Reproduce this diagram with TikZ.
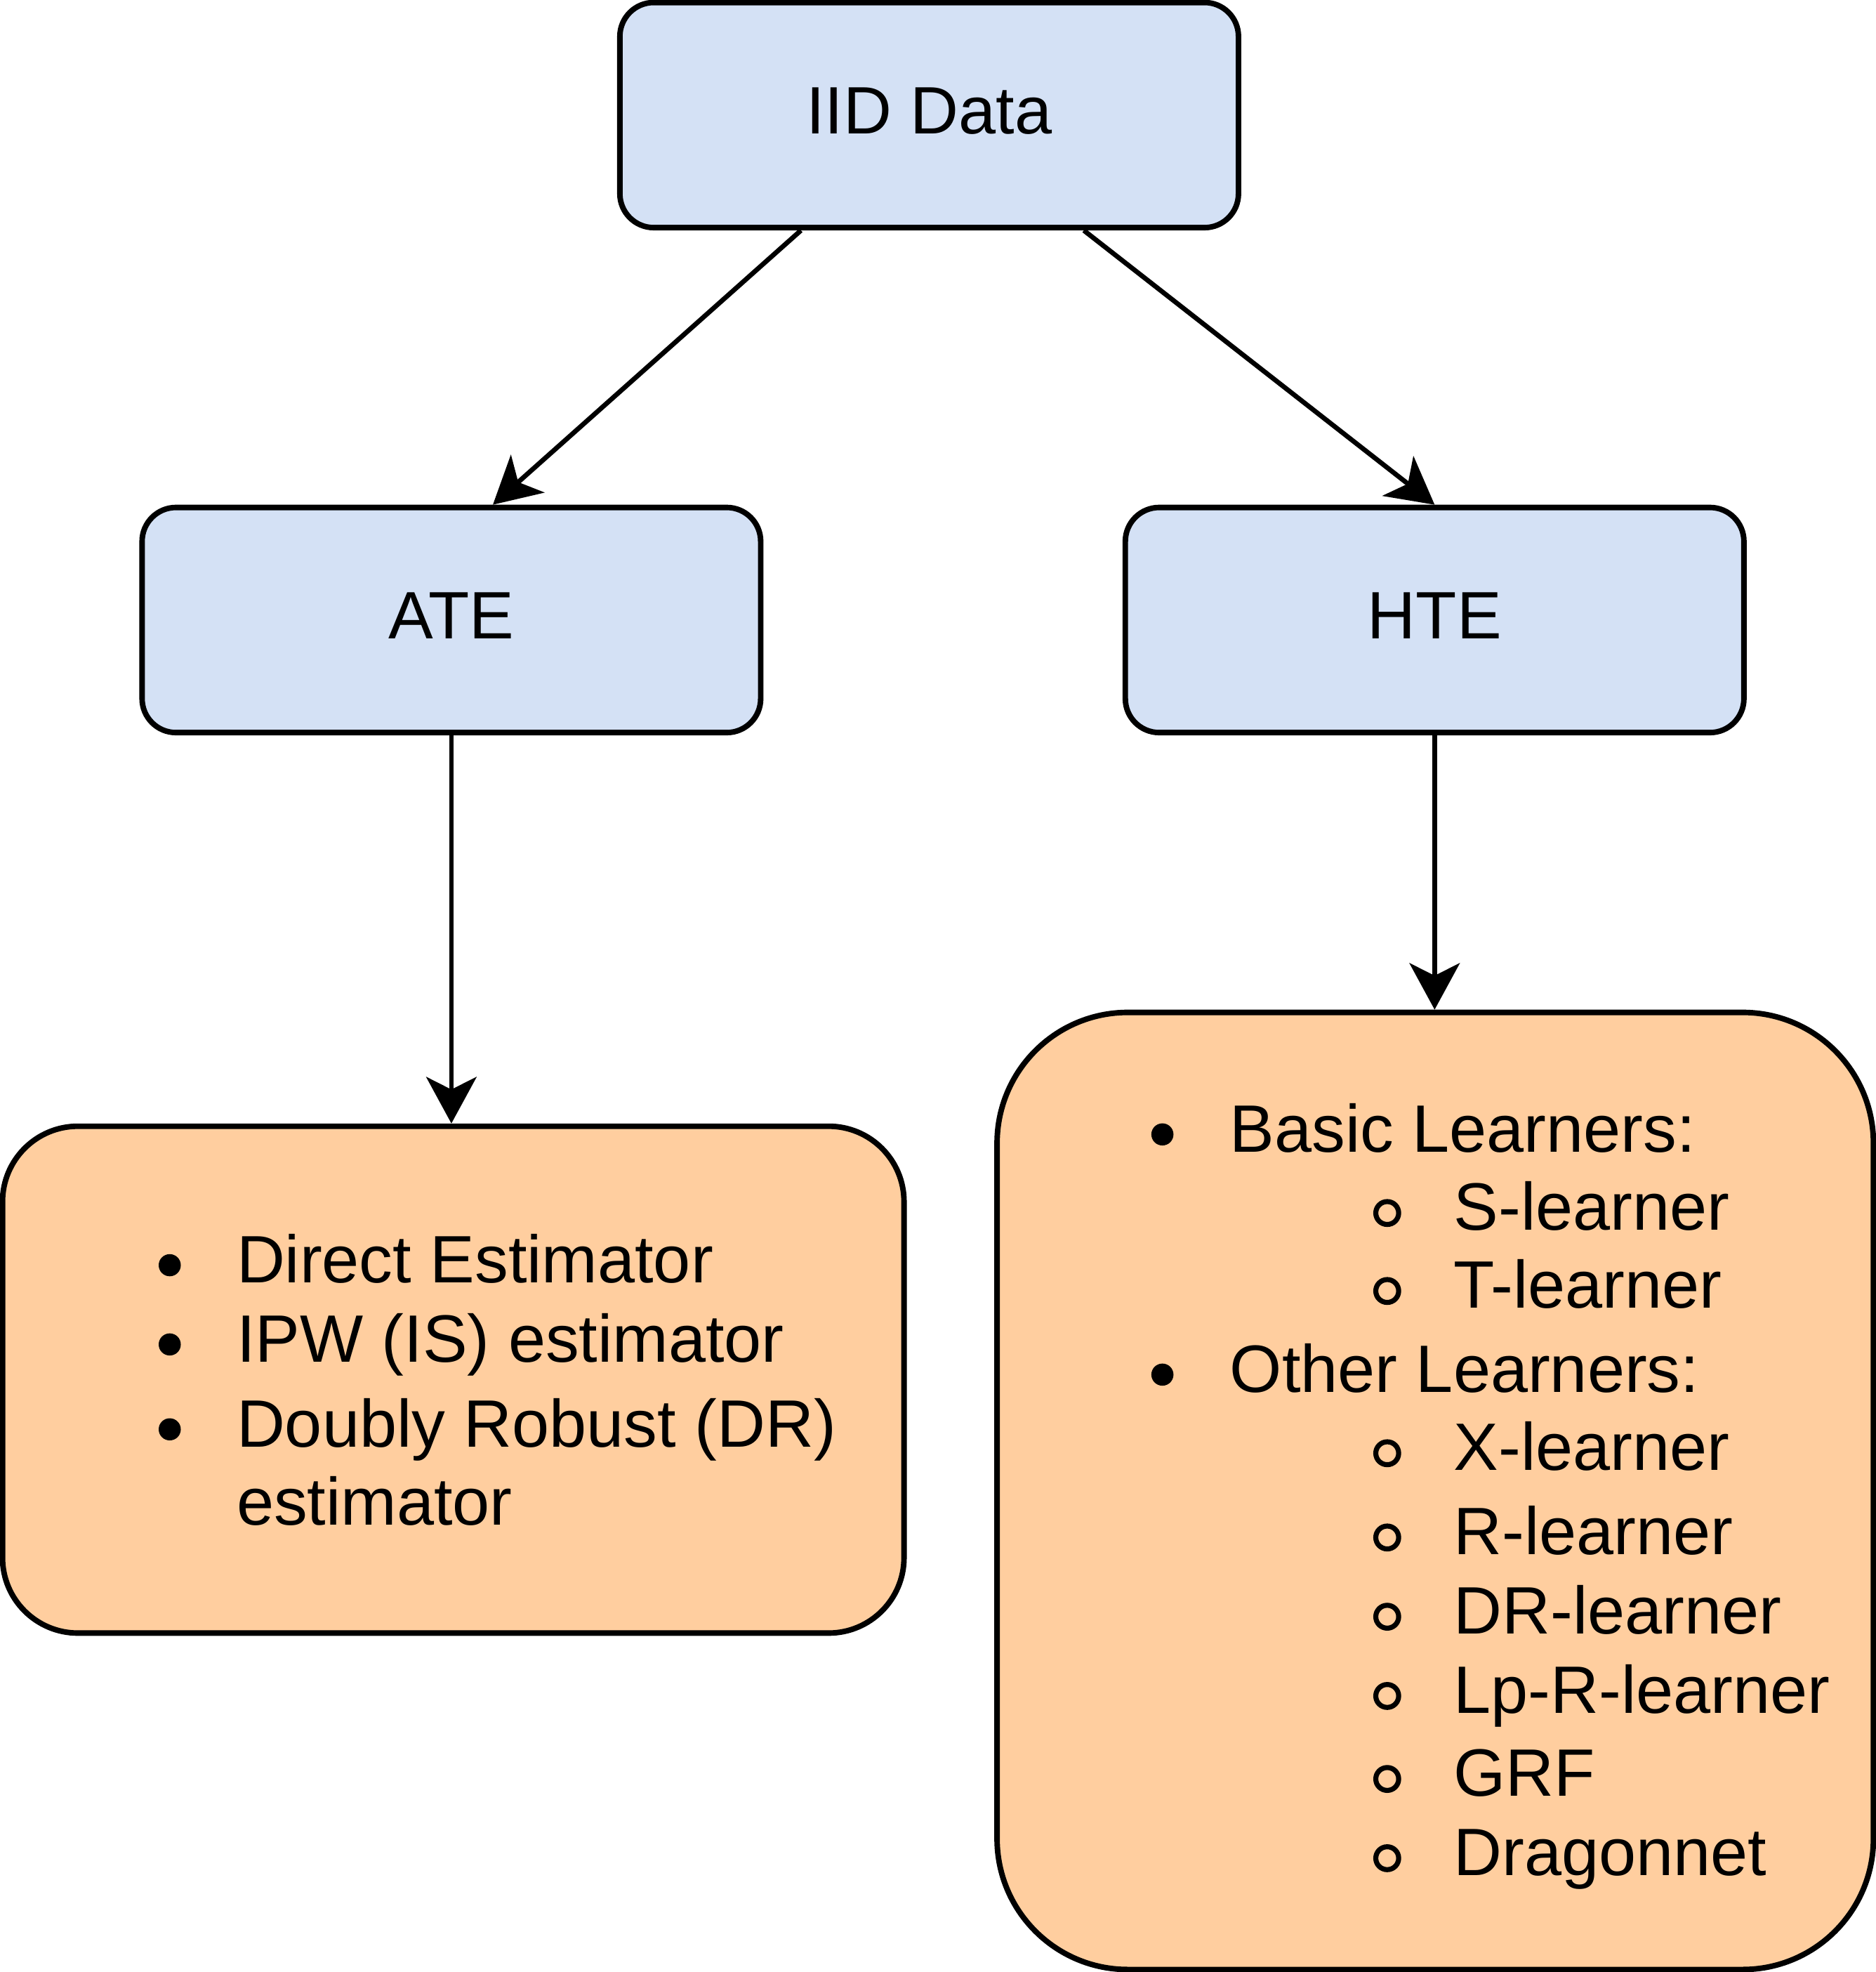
\documentclass[tikz,border=0pt]{standalone}
\usepackage{fontspec}
\setmainfont{Liberation Sans}
\usetikzlibrary{arrows.meta,calc}
\definecolor{boxblue}{HTML}{D4E1F5}
\definecolor{boxorange}{HTML}{FFCE9F}
\tikzset{
  topbox/.style={draw=black, line width=4.4pt, fill=boxblue, rounded corners=27pt,
    minimum width=492pt, minimum height=179pt, inner sep=0pt, text height=30pt, text depth=0pt,
    font=\fontsize{53.3}{64}\selectfont},
  listbox/.style={draw=black, line width=4.4pt, fill=boxorange, inner sep=0pt},
  itemtext/.style={anchor=base west, inner sep=0pt, font=\fontsize{53.3}{64}\selectfont},
  conn/.style={draw=black, line width=3.8pt, -{Stealth[length=37pt, width=40pt, inset=10pt]}},
}
\begin{document}
\begin{tikzpicture}[x=1pt,y=-1pt]
\useasboundingbox (0,0) rectangle (1492,1568);
% boxes
\node[topbox] (iid) at (739,91.5) {IID Data};
\node[topbox] (ate) at (359,493) {ATE};
\node[topbox] (hte) at (1141,493) {HTE};
\node[listbox, rounded corners=60pt, minimum width=717pt, minimum height=403pt] (ateList) at (360.5,1097) {};
\node[listbox, rounded corners=104pt, minimum width=697pt, minimum height=761pt] (hteList) at (1141.5,1185.5) {};
% connectors
\draw[conn] ($(iid.south)+(-102,0)$) -- ($(ate.north)+(33,0)$);
\draw[conn] ($(iid.south)+(123,0)$) -- (hte.north);
\draw[conn] (ate.south) -- (ate.south |- ateList.north);
\draw[conn] (hte.south) -- (hte.south |- hteList.north);
% left list
\foreach \y in {1020,1083,1150.5} { \fill (135,\y-14) circle (8.8pt); }
\node[itemtext] (l1) at (188,1020) {Direct Estimator};
\node[itemtext] (l2) at (188,1083) {IPW (IS) estimator};
\node[itemtext] (l3) at (188,1150.5) {Doubly Robust (DR)};
\node[itemtext] (l4) at (188,1212.5) {estimator};
% right list
\foreach \y in {916,1107} { \fill (924.5,\y-14) circle (8.8pt); }
\foreach \y in {978,1040,1169,1236,1299,1362,1428,1491} { \draw[line width=4pt] (1103.3,\y-13.5) circle (9.1pt); }
\node[itemtext] (r1) at (978,916) {Basic Learners:};
\node[itemtext] (r2) at (1156,978) {S-learner};
\node[itemtext] (r3) at (1156,1040) {T-learner};
\node[itemtext] (r4) at (978,1107) {Other Learners:};
\node[itemtext] (r5) at (1156,1169) {X-learner};
\node[itemtext] (r6) at (1156,1236) {R-learner};
\node[itemtext] (r7) at (1156,1299) {DR-learner};
\node[itemtext] (r8) at (1156,1362) {Lp-R-learner};
\node[itemtext] (r9) at (1156,1428) {GRF};
\node[itemtext] (r10) at (1156,1491) {Dragonnet};
\end{tikzpicture}
\end{document}
